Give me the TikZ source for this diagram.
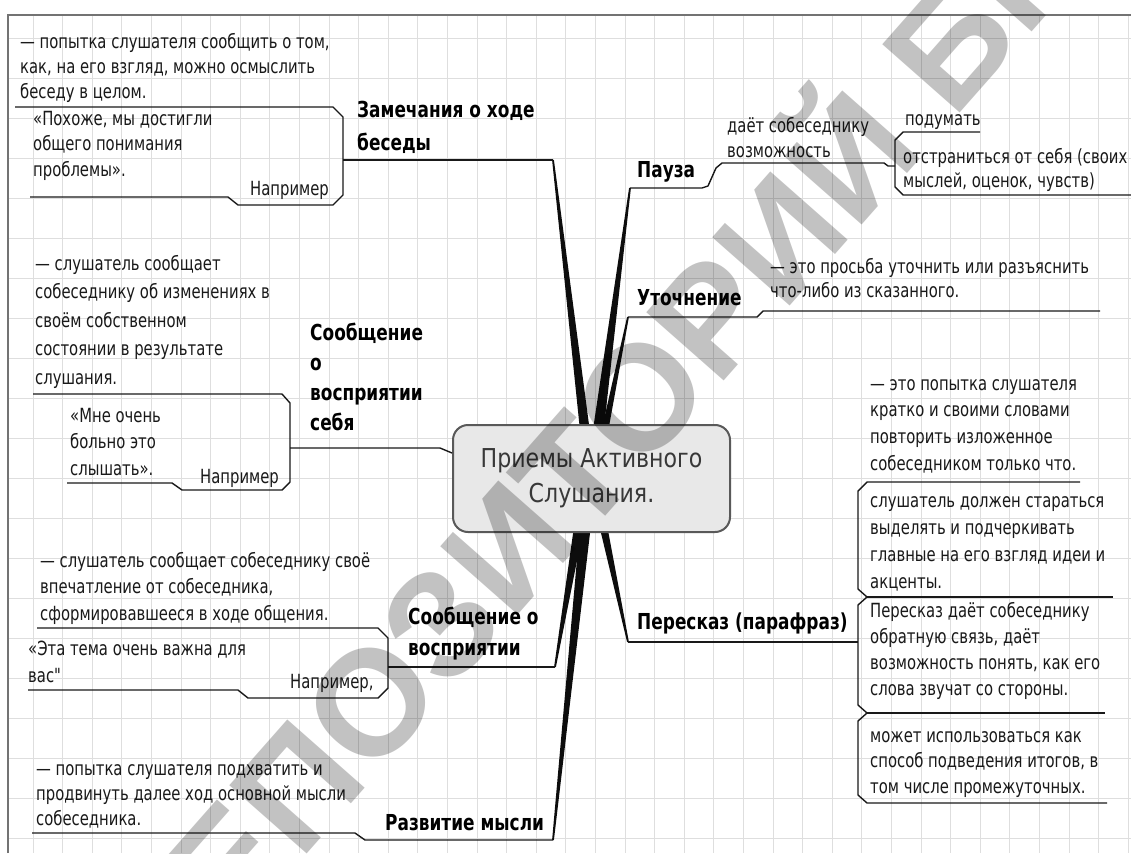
\documentclass[tikz,border=0pt]{standalone}
\usepackage{fontspec}
\setmainfont{DejaVu Sans}
\newfontfamily\bodyf[FakeStretch=0.76]{DejaVu Sans}
\newfontfamily\lblf[FakeStretch=0.77]{DejaVu Sans}
\newfontfamily\hubf[FakeStretch=0.85]{DejaVu Sans}
\newfontfamily\wmfont{Liberation Sans}
\usetikzlibrary{calc}
\tikzset{
  body/.style={anchor=north west, inner sep=0pt, align=left, text=black!90, font=\bodyf\fontsize{19.5}{#1}\selectfont},
  body/.default=26,
  lbl/.style={anchor=north west, inner sep=0pt, align=left, text=black, font=\lblf\bfseries\fontsize{22}{#1}\selectfont},
  lbl/.default=32,
  ln/.style={line width=1.4pt, black!90, line join=round},
  gridline/.style={black!13, line width=0.9pt},
  hub/.style={draw=black!65, line width=2pt, fill=black!9, rounded corners=15pt, minimum width=277pt, minimum height=107pt, align=center, text=black!78, font=\hubf\fontsize{26}{35}\selectfont},
  wm/.style={rotate=48.6, anchor=base west, inner sep=0pt, text=black, text opacity=0.24, font=\wmfont\bfseries\fontsize{150}{150}\selectfont}
}
\newcommand\mmspoke[3]{\fill[black!95] ($(#1)!0.9pt!90:(#2)$) -- ($(#1)!0.9pt!-90:(#2)$) -- ($(#2)!#3!90:(#1)$) -- ($(#2)!#3!-90:(#1)$) -- cycle;}
\begin{document}
\begin{tikzpicture}[x=1pt,y=-1pt]
\useasboundingbox (0,0) rectangle (1131,853);
\clip (0,0) rectangle (1131,853);
\fill[white] (0,0) rectangle (1131,853);
% grid
\foreach \i in {0,...,37} \draw[gridline] ({33+29.6*\i},15) -- ({33+29.6*\i},853);
\foreach \j in {0,...,20} \draw[gridline] (8,{38+40*\j}) -- (1131,{38+40*\j});
\draw[black!55, line width=1.2pt] (8,853) -- (8,15) -- (1131,15);

% spoke end points
\coordinate (ea) at (553,160);
\coordinate (ep) at (630,188);
\coordinate (eu) at (628,317);
\coordinate (er) at (628,642);
\coordinate (ev) at (555,667);
\coordinate (ed) at (553,840);
\coordinate (ia) at (586,440);
\coordinate (ip) at (597,440);
\coordinate (iu) at (603,440);
\coordinate (iv) at (580,520);
\coordinate (id) at (586,520);
\coordinate (ir) at (602,520);
\mmspoke{ea}{ia}{5pt}
\mmspoke{ep}{ip}{5.5pt}
\mmspoke{eu}{iu}{3.5pt}
\mmspoke{ev}{iv}{5pt}
\mmspoke{ed}{id}{5.5pt}
\mmspoke{er}{ir}{4pt}

% central node
\node[hub] (center) at (591.5,478.5) {Приемы Активного\\Слушания.};

% ---- Замечания о ходе беседы
\node[lbl=33] (la) at (357,94) {\strut Замечания о ходе\\беседы};
\node[body=25] (a1) at (20,30.5) {\strut — попытка слушателя сообщить о том,\\как, на его взгляд, можно осмыслить\\беседу в целом.};
\node[body=25.5] (a2) at (33,107.2) {\strut «Похоже, мы достигли\\общего понимания\\проблемы».};
\node[body] (a3) at (250,176.8) {\strut Например};
\draw[ln] (15,107) -- (333,107) -- (343,117) -- (343,195) -- (333,205) -- (238,205) -- (228,197) -- (30,197);
\draw[ln] (343,160) -- (ea);

% ---- Пауза
\node[lbl] (lp) at (637,154.6) {\strut Пауза};
\node[body=25] (p1) at (727,114.5) {\strut даёт собеседнику\\возможность};
\node[body] (p2) at (905,106.8) {\strut подумать};
\node[body=24] (p3) at (903,146.2) {\strut отстраниться от себя (своих\\мыслей, оценок, чувств)};
\draw[ln] (ep) -- (702,188) -- (708,186) -- (716,168) -- (722,163) -- (884,163) -- (888,166) -- (895,166);
\draw[ln] (980,132) -- (903,132) -- (895,140) -- (895,187) -- (903,195) -- (1131,195);

% ---- Уточнение
\node[lbl] (lu) at (637,282.6) {\strut Уточнение};
\node[body=24] (u1) at (770,256.2) {\strut — это просьба уточнить или разъяснить\\что-либо из сказанного.};
\draw[ln] (eu) -- (757,317) -- (763,311) -- (1100,311);

% ---- Пересказ (парафраз)
\node[lbl] (lr) at (637,606.6) {\strut Пересказ (парафраз)};
\node[body=26.7] (r1) at (870,371.3) {\strut — это попытка слушателя\\кратко и своими словами\\повторить изложенное\\собеседником только что.};
\node[body=27] (r2) at (870,488.1) {\strut слушатель должен стараться\\выделять и подчеркивать\\главные на его взгляд идеи и\\акценты.};
\node[body=26] (r3) at (870,598.8) {\strut Пересказ даёт собеседнику\\обратную связь, даёт\\возможность понять, как его\\слова звучат со стороны.};
\node[body=25.5] (r4) at (870,724.2) {\strut может использоваться как\\способ подведения итогов, в\\том числе промежуточных.};
\draw[ln] (er) -- (858,642);
\draw[ln] (1080,482) -- (867,482) -- (858,491) -- (858,589) -- (867,597) -- (858,605) -- (858,705) -- (867,713) -- (858,721) -- (858,795) -- (867,803) -- (1107,803);
\draw[ln] (867,597) -- (1113,597);
\draw[ln] (867,713) -- (1105,713);

% ---- Сообщение о восприятии себя
\node[lbl=30] (ls) at (310,319) {\strut Сообщение\\о\\восприятии\\себя};
\node[body=28.5] (s1) at (35,250) {\strut — слушатель сообщает\\собеседнику об изменениях в\\своём собственном\\состоянии в результате\\слушания.};
\node[body=26.5] (s2) at (70,403.5) {\strut «Мне очень\\больно это\\слышать».};
\node[body] (s3) at (200,464.8) {\strut Например};
\draw[ln] (33,394) -- (282,394) -- (290,403) -- (290,482) -- (282,490) -- (182,490) -- (172,483) -- (67,483);
\draw[ln] (290,448) -- (440,448) -- (center.west |- 0,453);

% ---- Сообщение о восприятии
\node[lbl=31] (lv) at (408,602.3) {\strut Сообщение о\\восприятии};
\node[body=26.5] (v1) at (40,548.5) {\strut — слушатель сообщает собеседнику своё\\впечатление от собеседника,\\сформировавшееся в ходе общения.};
\node[body=27] (v2) at (28,636.1) {\strut «Эта тема очень важна для\\вас"};
\node[body] (v3) at (290,669.8) {\strut Например,};
\draw[ln] (37,628) -- (378,628) -- (388,638) -- (388,688) -- (378,698) -- (248,698) -- (238,690) -- (28,690);
\draw[ln] (388,667) -- (ev);

% ---- Развитие мысли
\node[lbl] (ld) at (385,807.6) {\strut Развитие мысли};
\node[body=25] (d1) at (36,757.5) {\strut — попытка слушателя подхватить и\\продвинуть далее ход основной мысли\\собеседника.};
\draw[ln] (32,833) -- (355,833) -- (365,840) -- (ed);

% watermark
\node[wm] (wmark) at (168,1012) {РЕПОЗИТОРИЙ БГПУ};
\end{tikzpicture}
\end{document}
